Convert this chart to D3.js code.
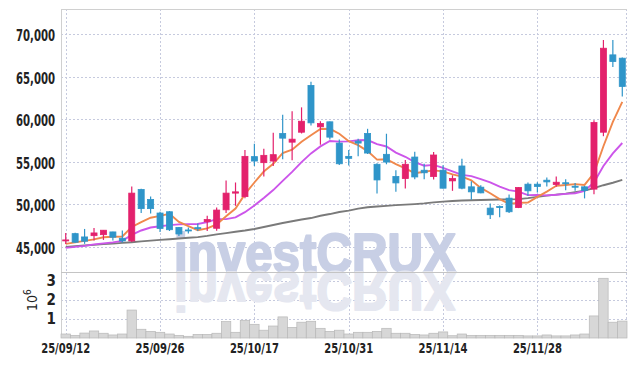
<!DOCTYPE html>
<html>
<head>
<meta charset="utf-8">
<script src="https://cdn.jsdelivr.net/npm/d3@7"></script>
<style>
  body { margin: 0; background: #fff; }
  svg { display: block; }
  .lbl { font-family: "Liberation Sans Narrow", "DejaVu Sans Condensed", "Liberation Sans", sans-serif; fill: #222; }
</style>
</head>
<body>
<div id="chart"></div>
<script>
const dates = [
  "25/09/12","25/09/15","25/09/16","25/09/17","25/09/18","25/09/19","25/09/22","25/09/23","25/09/24","25/09/25",
  "25/09/26","25/09/29","25/09/30","25/10/01","25/10/02","25/10/10","25/10/13","25/10/14","25/10/15","25/10/16",
  "25/10/17","25/10/20","25/10/21","25/10/22","25/10/23","25/10/24","25/10/27","25/10/28","25/10/29","25/10/30",
  "25/10/31","25/11/03","25/11/04","25/11/05","25/11/06","25/11/07","25/11/10","25/11/11","25/11/12","25/11/13",
  "25/11/14","25/11/17","25/11/18","25/11/19","25/11/20","25/11/21","25/11/24","25/11/25","25/11/26","25/11/27",
  "25/11/28","25/12/01","25/12/02","25/12/03","25/12/04","25/12/05","25/12/08","25/12/09","25/12/10","25/12/11"
];
const dateTicks = ["25/09/12","25/09/26","25/10/17","25/10/31","25/11/14","25/11/28"];
const priceTicks = [45000, 50000, 55000, 60000, 65000, 70000];
const volumeTicks = [1e6, 2e6, 3e6];

const opens = [
  45750,46540,46150,46300,46420,46740,46000,45680,51730,50560,
  48960,49110,47260,46970,47240,47940,47170,49340,51300,50890,
  55590,54880,55070,58310,57290,58460,63960,59090,59680,57180,
  55620,57410,58310,54690,55860,53250,53010,55540,53990,53250,
  53990,52740,54490,52040,52000,49540,49720,50710,49600,52350,
  52350,52820,52310,52520,52110,52040,51770,58460,67550,67160
];
const highs = [
  46620,46650,47090,47200,46950,46750,46910,52080,51820,50910,
  49110,49190,47320,47260,47730,48640,49620,52780,52550,56360,
  57110,56520,58390,60500,60920,61380,64390,59750,59710,57610,
  56360,57690,58860,54800,58280,53990,55190,56170,54740,56120,
  54570,53400,55350,52700,52230,50090,49840,51140,52000,52550,
  52580,53130,53250,52930,52500,52150,59870,69300,69300,67230
];
const lows = [
  45330,45450,45340,45720,45800,45720,45510,45570,48960,48900,
  46740,46850,46270,46560,46850,46850,46890,48960,49810,50710,
  54490,53250,54490,55270,55150,58310,59250,56990,57610,54600,
  54540,55620,55900,51260,54690,51450,51850,52930,52930,52900,
  51850,51570,51760,50510,51300,48260,48450,48960,49540,50980,
  51380,52080,52040,51640,51570,50680,51180,57990,66110,62670
];
const closes = [
  45800,45530,45650,46620,46940,46120,45680,51300,49480,49480,
  47150,47000,46500,46900,47170,48200,49310,51300,51450,55620,
  55070,55740,55820,57760,57640,59750,59560,59480,57880,54750,
  55390,57180,56010,52850,54950,52500,54690,53200,53690,55780,
  51880,53010,51880,51450,51330,48760,49600,49110,51960,51570,
  52080,52620,52580,52460,52040,51610,59600,68330,66760,63840
];
const volumes = [
  210000,140000,260000,370000,250000,160000,210000,1470000,460000,350000,
  300000,210000,140000,90000,190000,190000,250000,860000,300000,930000,
  720000,410000,630000,1110000,560000,830000,880000,510000,350000,410000,
  210000,300000,300000,350000,510000,250000,250000,190000,160000,250000,
  320000,120000,210000,140000,140000,140000,140000,140000,140000,110000,
  110000,160000,110000,110000,160000,210000,1160000,3140000,830000,890000
];
const ma5 = [
  45340,45510,45690,45860,46110,46170,46200,47330,47900,48410,
  48620,48880,47920,47410,46940,47150,47620,48580,49490,51180,
  52550,53840,54740,56000,56410,57340,58110,58840,58860,58280,
  57410,56940,56240,55240,55280,54700,54200,53640,53810,53970,
  53850,53510,53250,52800,51910,51290,50600,50050,50150,50200,
  50860,51470,52160,52260,52360,52260,53660,56810,59670,62030
];
const ma10 = [
  44870,44980,45100,45280,45390,45510,45690,46390,46910,47260,
  47400,47540,47630,47660,47680,47890,48250,48250,48450,49060,
  49850,50730,51660,52740,53790,54950,55970,56790,57430,57350,
  57380,57520,57540,57050,56780,56060,55570,54940,54520,54620,
  54270,53860,53440,53300,52940,52570,52060,51650,51480,51060,
  51080,51040,51110,51210,51280,51560,52560,54490,55970,57190
];
const ma60 = [
  44980,45070,45150,45220,45300,45370,45450,45530,45630,45720,
  45800,45880,45970,46050,46130,46270,46450,46600,46760,46910,
  47090,47320,47560,47790,48000,48200,48370,48640,48840,49080,
  49250,49480,49640,49720,49800,49890,49950,50010,50090,50210,
  50300,50380,50430,50470,50500,50520,50550,50570,50600,50710,
  50860,51000,51120,51240,51410,51590,51880,52230,52520,52850
];

function drawChart() {
  const width = 634, height = 366;
  const left = 61, right = 627, top = 9, priceBottom = 272, volBottom = 338;
  const upColor = "#e3216c", downColor = "#2f95c9";

  const svg = d3.select("#chart").append("svg")
    .attr("width", width)
    .attr("height", height)
    .attr("viewBox", `0 0 ${width} ${height}`);

  const x = d3.scaleBand().domain(dates).range([left, right]).padding(0);
  const cx = d => x(d) + x.bandwidth() / 2;
  const y = d3.scaleLinear().domain([42030, 72940]).range([priceBottom, top]);
  const yv = d3.scaleLinear().domain([0, 3.47e6]).range([volBottom, priceBottom]);

  // grid
  const grid = svg.append("g")
    .attr("stroke", "#c6cade")
    .attr("stroke-width", 1)
    .attr("stroke-dasharray", "2,2");
  grid.selectAll(".gx").data(dateTicks).enter().append("line")
    .attr("x1", d => Math.round(cx(d)) + 0.5).attr("x2", d => Math.round(cx(d)) + 0.5)
    .attr("y1", top).attr("y2", volBottom);
  grid.append("line")
    .attr("x1", right - 0.5).attr("x2", right - 0.5)
    .attr("y1", top).attr("y2", volBottom);
  grid.selectAll(".gy").data(priceTicks).enter().append("line")
    .attr("x1", left).attr("x2", right)
    .attr("y1", d => Math.round(y(d)) + 0.5).attr("y2", d => Math.round(y(d)) + 0.5);
  grid.selectAll(".gv").data(volumeTicks).enter().append("line")
    .attr("x1", left).attr("x2", right)
    .attr("y1", d => Math.round(yv(d)) + 0.5).attr("y2", d => Math.round(yv(d)) + 0.5);

  // watermark, drawn twice from one text (second copy mirrored below the panel line)
  svg.append("defs").append("text")
    .attr("id", "wmText")
    .attr("x", 315).attr("y", priceBottom)
    .attr("font-family", "Liberation Sans, Arial, sans-serif")
    .attr("font-weight", "bold").attr("font-size", 56)
    .attr("text-anchor", "middle")
    .attr("textLength", 282).attr("lengthAdjust", "spacingAndGlyphs")
    .attr("stroke-width", 2.2).attr("stroke-linejoin", "round")
    .text("investCRUX");
  svg.append("use").attr("href", "#wmText")
    .attr("fill", "#c8cfe5").attr("stroke", "#c8cfe5");
  svg.append("use").attr("href", "#wmText")
    .attr("transform", `translate(0,${2 * priceBottom}) scale(1,-1)`)
    .attr("fill", "#e5e7f0").attr("stroke", "#e5e7f0");

  // frame
  svg.append("line").attr("x1", left).attr("x2", right).attr("y1", top + 0.5).attr("y2", top + 0.5)
    .attr("stroke", "#d0d0d0");
  svg.append("line").attr("x1", left + 0.5).attr("x2", left + 0.5).attr("y1", top).attr("y2", volBottom)
    .attr("stroke", "#d0d0d0");
  svg.append("line").attr("x1", left).attr("x2", right).attr("y1", priceBottom + 0.5).attr("y2", priceBottom + 0.5)
    .attr("stroke", "#c4c4c4");

  // volume bars
  svg.append("g").selectAll("rect").data(dates).enter().append("rect")
    .attr("x", d => x(d))
    .attr("width", x.bandwidth())
    .attr("y", (d, i) => yv(volumes[i]))
    .attr("height", (d, i) => volBottom - yv(volumes[i]))
    .attr("fill", "#d7d7d7")
    .attr("stroke", "#b8b8b8")
    .attr("stroke-width", 0.7);

  // moving averages
  const lines = [
    { data: ma60, color: "#7a7a7a" },
    { data: ma10, color: "#cc55ea" },
    { data: ma5, color: "#f0884c" }
  ];
  lines.forEach(l => {
    svg.append("path")
      .datum(l.data)
      .attr("fill", "none")
      .attr("stroke", l.color)
      .attr("stroke-width", 1.9)
      .attr("d", d3.line().x((d, i) => cx(dates[i])).y(d => y(d)));
  });

  // candles
  const bodyW = x.bandwidth() * 0.64;
  const candles = svg.append("g").selectAll("g").data(dates).enter().append("g")
    .attr("stroke", (d, i) => closes[i] >= opens[i] ? upColor : downColor)
    .attr("fill", (d, i) => closes[i] >= opens[i] ? upColor : downColor);
  candles.append("line")
    .attr("x1", d => cx(d)).attr("x2", d => cx(d))
    .attr("y1", (d, i) => y(highs[i])).attr("y2", (d, i) => y(lows[i]))
    .attr("stroke-width", 1.2);
  candles.append("rect")
    .attr("x", d => cx(d) - bodyW / 2)
    .attr("width", bodyW)
    .attr("y", (d, i) => y(Math.max(opens[i], closes[i])))
    .attr("height", (d, i) => Math.max(1, Math.abs(y(opens[i]) - y(closes[i]))))
    .attr("stroke-width", 0.8);

  // axis labels
  svg.append("g").selectAll("text").data(priceTicks).enter().append("text")
    .attr("class", "lbl")
    .attr("x", 55).attr("y", d => y(d) + 7)
    .attr("text-anchor", "end")
    .attr("font-size", 15)
    .attr("font-weight", 600)
    .attr("textLength", 39).attr("lengthAdjust", "spacingAndGlyphs")
    .text(d => d3.format(",")(d));

  svg.append("g").selectAll("text").data(volumeTicks).enter().append("text")
    .attr("class", "lbl")
    .attr("x", 56).attr("y", d => yv(d) + 5)
    .attr("text-anchor", "end")
    .attr("font-size", 15)
    .attr("font-weight", 600)
    .text(d => d / 1e6);

  const unit = svg.append("text")
    .attr("class", "lbl")
    .attr("transform", "translate(37,311) rotate(-90)")
    .attr("font-size", 14);
  unit.append("tspan").text("10");
  unit.append("tspan").attr("dy", -6).attr("font-size", 10).text("6");

  svg.append("g").selectAll("text").data(dateTicks).enter().append("text")
    .attr("class", "lbl")
    .attr("x", d => cx(d)).attr("y", 353)
    .attr("text-anchor", "middle")
    .attr("font-size", 14)
    .attr("font-weight", 600)
    .attr("textLength", 49).attr("lengthAdjust", "spacingAndGlyphs")
    .text(d => d);
}

drawChart();
</script>
</body>
</html>
